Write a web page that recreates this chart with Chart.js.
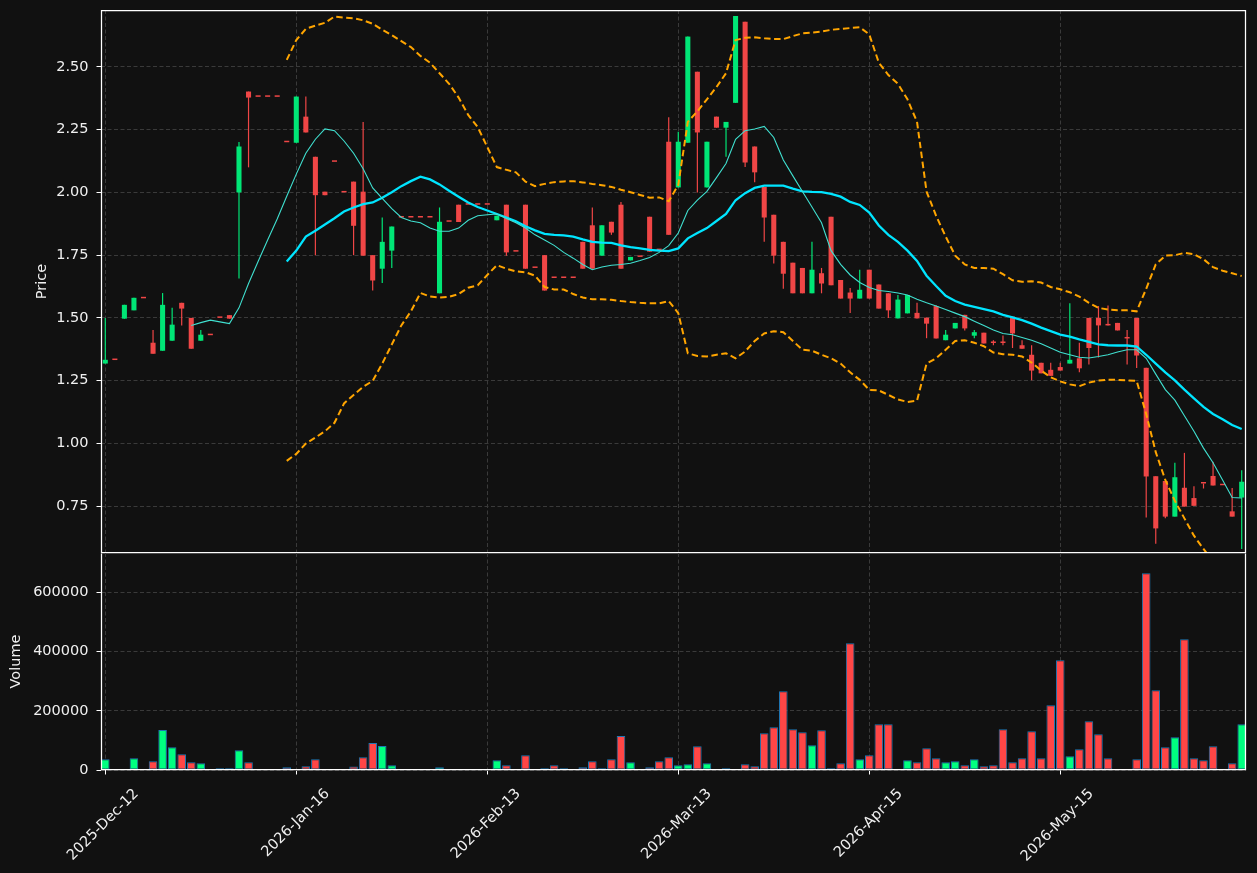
<!DOCTYPE html>
<html>
<head>
<meta charset="utf-8">
<script src="https://cdn.jsdelivr.net/npm/chart.js@4.4.1/dist/chart.umd.min.js"></script>
<style>
  html, body { margin: 0; padding: 0; background: #111111; }
  #wrap { position: relative; width: 1257px; height: 873px; background: #111111; overflow: hidden; }
  #priceChart { position: absolute; left: 0; top: 0; }
  #volumeChart { position: absolute; left: 0; top: 553px; }
</style>
</head>
<body>
<div id="wrap">
  <canvas id="priceChart" width="1257" height="560" style="width:1257px;height:560px"></canvas>
  <canvas id="volumeChart" width="1257" height="320" style="width:1257px;height:320px"></canvas>
</div>
<script>
// x axis: one slot per trading day, labels every 20 bars
const tickPositions = [0, 20, 40, 60, 80, 100];
const tickLabels = ['2025-Dec-12', '2026-Jan-16', '2026-Feb-13', '2026-Mar-13', '2026-Apr-15', '2026-May-15'];
const priceTicks = [0.75, 1.00, 1.25, 1.50, 1.75, 2.00, 2.25, 2.50];
const volumeTicks = [0, 200000, 400000, 600000];

const opens = [1.318,1.332,1.497,1.530,1.578,1.401,1.369,1.409,1.560,1.500,
  1.409,1.431,1.500,1.511,2.000,2.402,2.381,2.381,2.381,2.200,
  2.198,2.302,2.142,2.003,2.122,2.000,2.043,2.003,1.750,1.696,
  1.768,1.900,1.900,1.900,1.900,1.598,1.883,1.951,1.951,1.951,
  1.951,1.889,1.951,1.764,1.951,1.699,1.750,1.659,1.659,1.659,
  1.803,1.869,1.748,1.883,1.951,1.729,1.743,1.903,1.770,2.202,
  2.020,2.198,2.481,2.020,2.302,2.258,2.357,2.680,2.183,2.022,
  1.911,1.803,1.720,1.699,1.598,1.678,1.903,1.651,1.601,1.577,
  1.692,1.633,1.598,1.498,1.518,1.520,1.501,1.547,1.411,1.458,
  1.512,1.429,1.441,1.401,1.401,1.505,1.391,1.353,1.321,1.293,
  1.304,1.318,1.339,1.500,1.500,1.473,1.480,1.419,1.500,1.301,
  0.869,0.850,0.708,0.823,0.782,0.840,0.870,0.833,0.729,0.784];
const highs = [1.500,1.332,1.552,1.580,1.578,1.452,1.599,1.540,1.560,1.500,
  1.452,1.431,1.500,1.511,2.201,2.402,2.381,2.381,2.381,2.200,
  2.382,2.382,2.142,2.003,2.122,2.000,2.043,2.281,1.750,1.900,
  1.864,1.900,1.900,1.900,1.900,1.940,1.883,1.951,1.951,1.951,
  1.951,1.907,1.951,1.764,1.951,1.699,1.750,1.659,1.659,1.659,
  1.803,1.940,1.869,1.883,1.962,1.743,1.743,1.903,1.770,2.300,
  2.242,2.621,2.481,2.202,2.302,2.281,2.703,2.680,2.183,2.022,
  1.911,1.803,1.720,1.699,1.803,1.699,1.903,1.651,1.619,1.692,
  1.692,1.633,1.598,1.591,1.591,1.560,1.501,1.550,1.452,1.480,
  1.512,1.452,1.441,1.411,1.430,1.505,1.411,1.391,1.321,1.321,
  1.321,1.558,1.401,1.500,1.547,1.549,1.480,1.452,1.500,1.301,
  0.869,0.850,0.923,0.962,0.829,0.840,0.927,0.833,0.822,0.893];
const lows = [1.318,1.332,1.497,1.530,1.578,1.357,1.369,1.409,1.470,1.377,
  1.409,1.431,1.500,1.497,1.657,2.100,2.381,2.381,2.381,2.200,
  2.198,2.239,1.750,1.989,2.122,2.000,1.750,1.748,1.609,1.639,
  1.699,1.900,1.900,1.900,1.900,1.598,1.883,1.882,1.951,1.951,
  1.951,1.889,1.748,1.764,1.696,1.699,1.609,1.659,1.659,1.659,
  1.696,1.696,1.748,1.831,1.696,1.729,1.743,1.764,1.770,1.831,
  2.020,2.198,2.000,2.020,2.258,2.142,2.357,2.101,2.041,1.803,
  1.717,1.616,1.598,1.598,1.598,1.598,1.630,1.577,1.519,1.577,
  1.577,1.537,1.500,1.498,1.518,1.498,1.419,1.418,1.411,1.458,
  1.450,1.419,1.398,1.391,1.391,1.380,1.377,1.251,1.279,1.269,
  1.290,1.318,1.283,1.314,1.342,1.470,1.450,1.314,1.300,0.704,
  0.600,0.701,0.708,0.748,0.751,0.820,0.832,0.833,0.708,0.579];
const closes = [1.333,1.332,1.552,1.580,1.578,1.357,1.552,1.473,1.537,1.377,
  1.433,1.431,1.500,1.497,2.183,2.378,2.381,2.381,2.381,2.200,
  2.382,2.239,1.989,1.989,2.122,2.000,1.867,1.748,1.649,1.803,
  1.864,1.900,1.900,1.900,1.900,1.883,1.883,1.882,1.951,1.951,
  1.951,1.907,1.761,1.764,1.696,1.699,1.609,1.659,1.659,1.659,
  1.696,1.696,1.869,1.840,1.696,1.743,1.743,1.764,1.770,1.831,
  2.202,2.621,2.239,2.202,2.258,2.281,2.703,2.119,2.080,1.900,
  1.748,1.676,1.598,1.598,1.692,1.637,1.630,1.577,1.577,1.612,
  1.577,1.537,1.530,1.573,1.591,1.498,1.477,1.418,1.433,1.480,
  1.458,1.443,1.398,1.400,1.400,1.438,1.377,1.290,1.279,1.269,
  1.290,1.333,1.299,1.380,1.470,1.470,1.450,1.418,1.350,0.868,
  0.661,0.708,0.865,0.748,0.751,0.840,0.832,0.833,0.708,0.847];
const volumes = [36400,0,2000,39800,0,29500,135000,77000,53400,26000,
  22700,0,5700,5700,67000,26000,0,0,0,9000,
  0,12500,36400,0,0,0,11400,43000,91000,80700,
  16000,0,0,0,0,9000,0,0,0,0,
  0,33000,16000,0,50000,0,5700,16000,5700,2300,
  9000,29500,5700,36400,115000,26000,0,9000,29500,43000,
  16000,19000,80000,22500,0,5600,0,19000,12400,124000,
  144000,265600,137300,127200,83300,134000,5600,22500,427700,36000,
  49500,154200,154200,2000,32600,25900,73200,39400,25900,29300,
  15800,36000,12400,15800,137300,25900,39400,130600,39400,218400,
  370300,46100,69800,164300,120400,39400,0,2000,36000,664000,
  269000,76500,110300,441200,39400,32600,80000,0,22500,154200];

// overlays; first value belongs to bar ma10Start / bandStart
const ma10Start = 9;
const ma10Values = [1.470,1.481,1.491,1.484,1.477,1.540,1.637,1.725,1.810,1.894,
  1.985,2.073,2.156,2.212,2.253,2.246,2.205,2.156,2.094,2.018,
  1.976,1.935,1.900,1.886,1.879,1.858,1.845,1.845,1.858,1.889,
  1.907,1.911,1.914,1.896,1.879,1.858,1.831,1.810,1.789,1.761,
  1.738,1.713,1.692,1.703,1.710,1.713,1.718,1.729,1.741,1.761,
  1.788,1.838,1.928,1.969,2.004,2.059,2.115,2.212,2.246,2.253,
  2.263,2.219,2.129,2.066,2.004,1.942,1.879,1.768,1.713,1.671,
  1.641,1.621,1.609,1.605,1.599,1.591,1.574,1.560,1.547,1.533,
  1.519,1.505,1.487,1.470,1.452,1.438,1.433,1.422,1.411,1.397,
  1.380,1.363,1.353,1.343,1.340,1.346,1.353,1.364,1.373,1.373,
  1.339,1.276,1.214,1.172,1.110,1.048,0.981,0.923,0.854,0.784,
  0.782];
const bandStart = 19;
const ma20Values = [1.725,1.768,1.824,1.847,1.872,1.897,1.924,1.940,1.953,1.960,
  1.979,2.001,2.025,2.045,2.063,2.052,2.032,2.007,1.983,1.960,
  1.942,1.928,1.914,1.900,1.885,1.865,1.849,1.835,1.831,1.829,
  1.824,1.813,1.803,1.800,1.799,1.789,1.782,1.777,1.771,1.768,
  1.766,1.777,1.817,1.838,1.858,1.886,1.914,1.969,1.997,2.018,
  2.027,2.027,2.027,2.015,2.004,2.002,2.001,1.994,1.983,1.962,
  1.950,1.920,1.868,1.831,1.803,1.768,1.727,1.668,1.627,1.588,
  1.567,1.553,1.544,1.535,1.526,1.512,1.502,1.491,1.477,1.461,
  1.447,1.433,1.425,1.414,1.404,1.394,1.391,1.390,1.390,1.386,
  1.353,1.318,1.283,1.251,1.214,1.179,1.145,1.117,1.096,1.073,
  1.057];
const bbUpperValues = [2.528,2.607,2.652,2.665,2.676,2.701,2.697,2.694,2.686,2.672,
  2.648,2.627,2.603,2.579,2.544,2.517,2.475,2.433,2.378,2.309,
  2.260,2.181,2.101,2.090,2.080,2.043,2.025,2.034,2.041,2.044,
  2.045,2.040,2.034,2.029,2.022,2.011,2.001,1.990,1.979,1.980,
  1.965,2.030,2.281,2.323,2.371,2.420,2.475,2.607,2.616,2.618,
  2.614,2.611,2.611,2.623,2.634,2.637,2.641,2.648,2.652,2.655,
  2.658,2.630,2.517,2.468,2.433,2.371,2.281,2.003,1.907,1.824,
  1.748,1.713,1.699,1.699,1.696,1.674,1.650,1.644,1.646,1.641,
  1.623,1.614,1.602,1.585,1.560,1.540,1.533,1.530,1.530,1.526,
  1.616,1.713,1.748,1.750,1.759,1.754,1.734,1.702,1.688,1.678,
  1.667];
const bbLowerValues = [0.930,0.958,0.999,1.023,1.048,1.082,1.159,1.193,1.225,1.249,
  1.318,1.394,1.470,1.526,1.599,1.585,1.581,1.584,1.595,1.620,
  1.630,1.671,1.710,1.696,1.685,1.682,1.668,1.623,1.613,1.613,
  1.595,1.581,1.574,1.574,1.572,1.567,1.563,1.560,1.558,1.558,
  1.567,1.519,1.359,1.348,1.346,1.353,1.359,1.339,1.366,1.408,
  1.438,1.447,1.443,1.408,1.373,1.369,1.353,1.339,1.318,1.283,
  1.253,1.213,1.211,1.193,1.175,1.165,1.170,1.318,1.339,1.373,
  1.408,1.411,1.401,1.387,1.362,1.355,1.353,1.346,1.322,1.290,
  1.263,1.247,1.235,1.228,1.242,1.250,1.253,1.253,1.251,1.249,
  1.117,0.965,0.854,0.771,0.701,0.632,0.579,0.530,0.480,0.440,
  0.410];

const UP = '#00e676', DOWN = '#f04646';
const VOL_UP = '#00ff80', VOL_DOWN = '#ff4646';
const GRID = '#3a3a3a';
const TEXT = '#f0f0f0';
const FONT = { family: 'DejaVu Sans', size: 14.5 };

const idx = closes.map((_, i) => i);
const isUp = i => closes[i] > opens[i];
const series = (vals, start) => vals.map((v, k) => ({ x: start + k, y: v }));

// white box around each plot area (volume panel shares the price panel's bottom edge)
const makeFrame = (drawTop) => ({
  id: 'frame',
  afterDraw(chart) {
    const { ctx, chartArea: a } = chart;
    const l = Math.round(a.left) + 0.5, t = Math.round(a.top) + 0.5;
    const r = Math.round(a.right) - 0.5, b = Math.round(a.bottom) - 0.5;
    ctx.save();
    ctx.strokeStyle = '#ffffff';
    ctx.lineWidth = 1.25;
    ctx.beginPath();
    if (drawTop) {
      ctx.moveTo(l, b); ctx.lineTo(l, t); ctx.lineTo(r, t); ctx.lineTo(r, b); ctx.closePath();
    } else {
      ctx.moveTo(l, t); ctx.lineTo(l, b); ctx.lineTo(r, b); ctx.lineTo(r, t);
    }
    ctx.stroke();
    ctx.restore();
  }
});

const gridOpts = (ticks) => ({
  color: GRID, lineWidth: 1, offset: false,
  drawTicks: ticks, tickLength: 4.5, tickColor: '#ffffff', tickWidth: 1, tickBorderDash: []
});

function xAxis(showLabels) {
  return {
    type: 'linear', min: -0.45, max: 119.45, offset: false,
    afterBuildTicks: s => { s.ticks = tickPositions.map(v => ({ value: v })); },
    grid: gridOpts(showLabels),
    border: { display: false, dash: [4, 2.5] },
    ticks: showLabels
      ? { autoSkip: false, minRotation: 45, maxRotation: 45, labelOffset: 31, padding: 11,
          color: TEXT, font: FONT, callback: (v, i) => tickLabels[i] }
      : { display: false },
    afterFit: s => {
      s.height = showLabels ? 103 : 0;
      s.paddingLeft = 0; s.paddingRight = 0;
    }
  };
}

function yAxis(min, max, ticks, fmt, title, titlePad) {
  return {
    type: 'linear', min: min, max: max,
    afterBuildTicks: s => { s.ticks = ticks.map(v => ({ value: v })); },
    grid: gridOpts(true),
    border: { display: false, dash: [4, 2.5] },
    ticks: { color: TEXT, font: FONT, padding: 8, callback: fmt },
    title: { display: true, text: title, color: TEXT, font: FONT, padding: { top: titlePad, bottom: 0 } },
    afterFit: s => {
      s.width = 101;
      s.paddingTop = 0; s.paddingBottom = 0;
    }
  };
}

const lineBase = { type: 'line', pointRadius: 0, fill: false, tension: 0, order: 0 };

new Chart(document.getElementById('priceChart'), {
  type: 'bar',
  data: {
    datasets: [
      { ...lineBase, label: 'MA10', data: series(ma10Values, ma10Start), borderColor: '#40e0d0', borderWidth: 1.1 },
      { ...lineBase, label: 'MA20', data: series(ma20Values, bandStart), borderColor: '#00e5ff', borderWidth: 2.3 },
      { ...lineBase, label: 'BB upper', data: series(bbUpperValues, bandStart), borderColor: '#ffa500', borderWidth: 2, borderDash: [6.5, 3.5] },
      { ...lineBase, label: 'BB lower', data: series(bbLowerValues, bandStart), borderColor: '#ffa500', borderWidth: 2, borderDash: [6.5, 3.5] },
      {
        label: 'Body', order: 1, grouped: false,
        data: idx.map(i => ({ x: i, y: [opens[i], closes[i]] })),
        backgroundColor: idx.map(i => isUp(i) ? UP : DOWN),
        barPercentage: 0.53, categoryPercentage: 1, minBarLength: 1.5
      },
      {
        label: 'Wick', order: 2, grouped: false,
        data: idx.map(i => ({ x: i, y: [lows[i], highs[i]] })),
        backgroundColor: idx.map(i => isUp(i) ? UP : DOWN),
        barPercentage: 0.125, categoryPercentage: 1
      }
    ]
  },
  options: {
    responsive: false,
    animation: false,
    events: [],
    layout: { padding: { left: 0, right: 11, top: 10, bottom: 7 } },
    plugins: { legend: { display: false }, tooltip: { enabled: false } },
    scales: {
      x: xAxis(false),
      y: yAxis(0.563, 2.727, priceTicks, v => v.toFixed(2), 'Price', 34)
    }
  },
  plugins: [makeFrame(true)]
});

new Chart(document.getElementById('volumeChart'), {
  type: 'bar',
  data: {
    datasets: [{
      label: 'Volume', grouped: false,
      data: idx.map(i => ({ x: i, y: volumes[i] })),
      backgroundColor: idx.map(i => isUp(i) ? VOL_UP : VOL_DOWN),
      borderColor: '#1f77b4', borderWidth: 1, borderSkipped: false,
      barPercentage: 0.9, categoryPercentage: 1
    }]
  },
  options: {
    responsive: false,
    animation: false,
    events: [],
    layout: { padding: { left: 0, right: 11, top: 0, bottom: 0 } },
    plugins: { legend: { display: false }, tooltip: { enabled: false } },
    scales: {
      x: xAxis(true),
      y: yAxis(0, 732600, volumeTicks, v => String(v), 'Volume', 8)
    }
  },
  plugins: [makeFrame(false)]
});
</script>
</body>
</html>
